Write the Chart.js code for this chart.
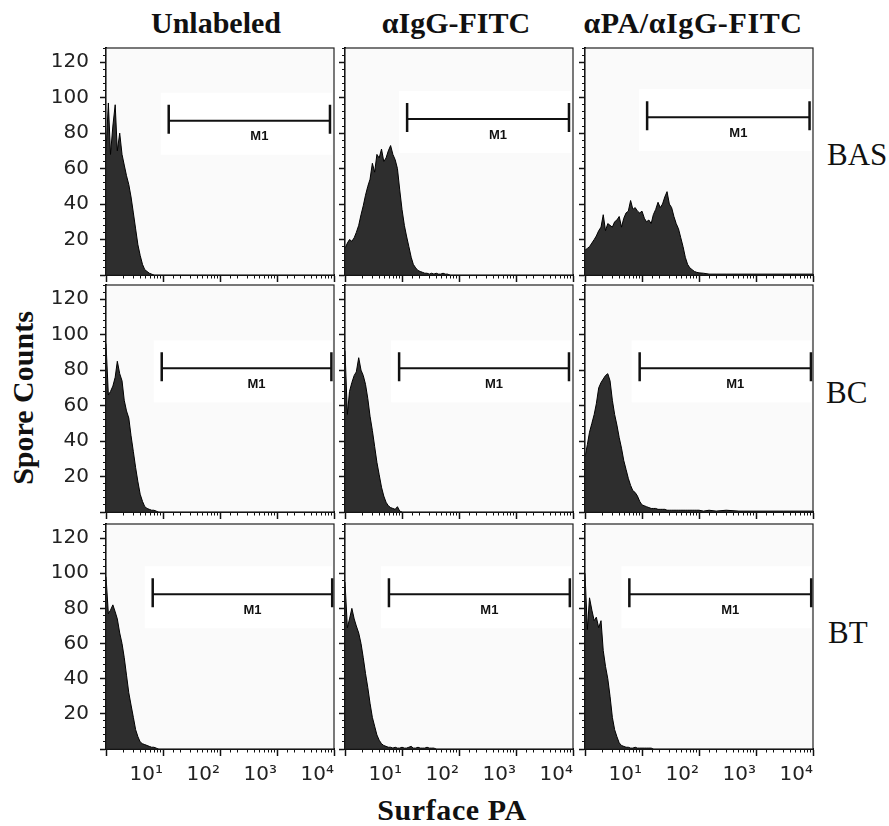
<!DOCTYPE html>
<html>
<head>
<meta charset="utf-8">
<script src="https://cdn.jsdelivr.net/npm/chart.js@4.4.0/dist/chart.umd.min.js"></script>
<style>
  body { margin: 0; background: #fff; width: 889px; height: 826px; position: relative; overflow: hidden; }
  canvas { position: absolute; }
  .txt { position: absolute; font-family: "Liberation Serif", serif; color: #111; white-space: nowrap; line-height: 1; }
  .title { font-size: 30px; font-weight: bold; width: 320px; text-align: center; }
  .row { font-size: 31px; }
</style>
</head>
<body>
<div class="txt title" style="left:56px;top:8px">Unlabeled</div>
<div class="txt title" style="left:296px;top:8px">αIgG-FITC</div>
<div class="txt title" style="left:533px;top:8px;letter-spacing:0.6px">αPA/αIgG-FITC</div>
<div class="txt row" style="left:827px;top:139px">BAS</div>
<div class="txt row" style="left:826px;top:377px">BC</div>
<div class="txt row" style="left:828px;top:617px">BT</div>
<div class="txt title" style="left:292px;top:795px;letter-spacing:0.6px">Surface PA</div>
<div class="txt title" style="left:-137px;top:383px;transform:rotate(-90deg)">Spore Counts</div>
<script>
// histogram bins (fluorescence, log spaced)
const bins = [1, 1.1, 1.2, 1.32, 1.45, 1.58, 1.74, 1.91, 2.09, 2.29,
  2.51, 2.75, 3.02, 3.31, 3.63, 3.98, 4.37, 4.79, 5.25, 5.75,
  6.31, 6.92, 7.59, 8.32, 9.12, 10, 11, 12, 13.2, 14.5,
  15.8, 17.4, 19.1, 20.9, 22.9, 25.1, 27.5, 30.2, 33.1, 36.3,
  39.8, 43.7, 47.9, 52.5, 57.5, 63.1, 69.2, 75.9, 83.2, 91.2,
  100, 120, 150, 200, 300, 500, 1000, 3000, 10000];

// spore counts per bin
const basUnlabeled = [70, 97, 68, 84, 96, 70, 80, 68, 62, 56, 51, 44, 35, 26, 17, 11, 6, 3, 2, 1, 0.5, 0];
const basIgg = [15, 18, 20, 19, 21, 24, 28, 34, 39, 45, 50, 54, 63, 58, 68, 66, 71, 64, 66, 70,
  73, 68, 65, 60, 48, 37, 28, 22, 16, 10, 6, 4, 2.5, 2, 1.5, 1, 1, 0.5, 1, 0.5,
  1, 0.5, 0.5, 1, 0.5, 0.5, 0];
const basPa = [14, 15, 16, 18, 20, 22, 25, 27, 34, 25, 29, 28, 27, 30, 31, 33, 27, 32, 35, 36,
  42, 37, 38, 36, 35, 36, 32, 30, 31, 29, 34, 37, 41, 38, 40, 44, 47, 40, 38, 33,
  29, 26, 21, 16, 10, 6, 4, 3, 2, 1.5, 1.2, 1, 0.5, 0.5, 0.5, 0.5, 0.5, 0.5, 0.5];
const bcUnlabeled = [95, 66, 68, 71, 76, 85, 78, 74, 63, 57, 53, 43, 34, 25, 17, 10, 6, 3, 2, 1.5, 1, 1, 0.5, 0];
const bcIgg = [91, 55, 68, 73, 77, 79, 87, 80, 77, 72, 64, 54, 46, 37, 28, 21, 14, 9, 5.5, 3.5,
  2.5, 2, 1.5, 3, 0.5, 0];
const bcPa = [31, 38, 45, 50, 55, 61, 70, 73, 75, 77, 78, 74, 63, 55, 49, 42, 36, 29, 24, 19,
  15, 12, 11, 9, 6, 4, 3.5, 3, 2.5, 2, 2, 2, 1.5, 1.5, 1.5, 1.5, 1, 1, 1, 1,
  1, 1, 1, 1, 1, 1, 1, 1, 1, 1, 1, 0.5, 1, 0.5, 1, 0.5, 0.5, 0.5, 0.5];
const btUnlabeled = [98, 77, 79, 82, 78, 74, 66, 60, 52, 42, 32, 25, 18, 11, 7, 4, 3, 2.5, 2, 1.5, 1, 1, 0.5, 0];
const btIgg = [95, 69, 74, 80, 74, 70, 66, 60, 52, 43, 35, 26, 18, 13, 8, 5, 3, 2, 1.5, 1,
  1, 0.5, 1, 0.5, 0.5, 1, 0.5, 0.5, 1, 1.5, 0.5, 0.5, 1, 0.5, 0.5, 0.5, 1, 0.5, 0.5, 0.5, 0];
const btPa = [100, 68, 86, 79, 73, 75, 69, 73, 56, 47, 40, 30, 18, 11, 7, 3.5, 2, 1.5, 1, 1,
  0.5, 0.5, 1, 0.5, 0.5, 0.5, 0.5, 0.5, 0.5, 0.5, 0];

const panelCounts = [
  [basUnlabeled, basIgg, basPa],
  [bcUnlabeled, bcIgg, bcPa],
  [btUnlabeled, btIgg, btPa]
];

// M1 gate per panel (row by row)
const gateStart = [12.6, 12.3, 12.3, 9.5, 8.9, 9.1, 6.6, 5.9, 6.0];
const gateEnd = [8500, 8500, 8700, 9000, 8500, 9200, 9300, 8800, 9300];
const gateLevel = [87, 88, 89, 81, 81, 81, 88, 88, 88];
const gateName = 'M1';

const yTicks = [0, 20, 40, 60, 80, 100, 120];
const xTicks = [1, 10, 100, 1000, 10000];
const xTickLabels = ['', '10¹', '10²', '10³', '10⁴'];

// where each plot area sits on the page
const colLeft = [106, 345, 585];
const rowTop = [48, 285, 524];
const rowH = [227, 227, 225];
const plotW = 228;

Chart.defaults.font.family = 'DejaVu Sans';

function decor(k) {
  return {
    id: 'decor' + k,
    beforeDatasetsDraw(chart) {
      const { ctx, chartArea: a, scales } = chart;
      ctx.save();
      ctx.fillStyle = '#fafafa';
      ctx.fillRect(a.left, a.top, a.width, a.height);
      const gx = scales.x.getPixelForValue(gateStart[k]);
      const gy = scales.y.getPixelForValue(gateLevel[k]);
      ctx.fillStyle = '#ffffff';
      ctx.fillRect(gx - 8, gy - 28, a.right - gx + 6, 62);
      ctx.restore();
    },
    afterDatasetsDraw(chart) {
      const { ctx, chartArea: a, scales } = chart;
      const x1 = scales.x.getPixelForValue(gateStart[k]);
      const x2 = scales.x.getPixelForValue(gateEnd[k]);
      const gy = scales.y.getPixelForValue(gateLevel[k]);
      ctx.save();
      // end caps of the gate
      ctx.strokeStyle = '#111';
      ctx.lineWidth = 2.5;
      ctx.beginPath();
      ctx.moveTo(x1, gy - 16); ctx.lineTo(x1, gy + 13);
      ctx.moveTo(x2, gy - 16); ctx.lineTo(x2, gy + 13);
      ctx.stroke();
      ctx.fillStyle = '#111';
      ctx.font = 'bold 13px "Liberation Sans"';
      ctx.textAlign = 'center';
      ctx.textBaseline = 'middle';
      ctx.fillText(gateName, (x1 + x2) / 2 + 10, gy + 16);
      ctx.strokeStyle = '#222';
      ctx.lineWidth = 1.2;
      ctx.strokeRect(a.left, a.top, a.width, a.height);
      ctx.restore();
    }
  };
}

function buildConfig(r, c) {
  const k = r * 3 + c;
  const counts = panelCounts[r][c];
  return {
    type: 'line',
    data: {
      datasets: [
        {
          data: counts.map((v, i) => ({ x: bins[i], y: v })),
          fill: 'origin',
          backgroundColor: '#2e2e2e',
          borderColor: '#000',
          borderWidth: 1,
          pointRadius: 0,
          tension: 0,
          order: 2
        },
        {
          data: [{ x: gateStart[k], y: gateLevel[k] }, { x: gateEnd[k], y: gateLevel[k] }],
          borderColor: '#111',
          borderWidth: 2,
          pointRadius: 0,
          fill: false,
          order: 1
        }
      ]
    },
    options: {
      responsive: false,
      animation: false,
      events: [],
      layout: { padding: { top: 4, right: 4, bottom: 0, left: 0 } },
      plugins: { legend: { display: false }, tooltip: { enabled: false } },
      scales: {
        x: {
          type: 'logarithmic', min: 1, max: 10000, position: 'bottom', weight: 1,
          afterBuildTicks: s => { s.ticks = xTicks.map(v => ({ value: v })); },
          afterFit: s => { s.height = r === 2 ? 44 : 8; },
          grid: { drawOnChartArea: false, tickLength: 7, tickWidth: 1.5, tickColor: '#111' },
          border: { display: true, color: '#000', width: 2 },
          ticks: {
            display: r === 2, autoSkip: false, maxRotation: 0, align: 'end', padding: 7,
            color: '#222', font: { size: 20 },
            callback: (v, i) => xTickLabels[i]
          }
        },
        xMinor: {
          type: 'logarithmic', min: 1, max: 10000, position: 'bottom', weight: 0,
          afterFit: s => { s.height = 0; },
          grid: { drawOnChartArea: false, tickLength: 3.5, tickWidth: 1, tickColor: '#111' },
          border: { display: false },
          ticks: { display: false, autoSkip: false }
        },
        y: {
          min: 0, max: 128, position: 'left', weight: 1,
          afterBuildTicks: s => { s.ticks = yTicks.map(v => ({ value: v })); },
          afterFit: s => { s.width = c === 0 ? 70 : 8; },
          grid: { drawOnChartArea: false, tickLength: 6, tickWidth: 1.5, tickColor: '#111' },
          border: { display: true, color: '#000', width: 2 },
          ticks: {
            display: c === 0, padding: 11, color: '#222', font: { size: 20 },
            callback: v => v === 0 ? '' : v
          }
        },
        yMinor: {
          min: 0, max: 128, position: 'left', weight: 0,
          afterFit: s => { s.width = 0; },
          grid: { drawOnChartArea: false, tickLength: 3, tickWidth: 1, tickColor: '#111' },
          border: { display: false },
          ticks: { display: false, stepSize: 4, autoSkip: false }
        }
      }
    },
    plugins: [decor(k)]
  };
}

function placePanel(r, c) {
  // first pass measures the margins around the plot area
  const probe = document.createElement('canvas');
  probe.width = 400; probe.height = 340;
  document.body.appendChild(probe);
  const test = new Chart(probe, buildConfig(r, c));
  const a = test.chartArea;
  const ml = a.left, mt = a.top, mr = 400 - a.right, mb = 340 - a.bottom;
  test.destroy();
  probe.remove();

  const cv = document.createElement('canvas');
  cv.width = Math.round(ml + plotW + mr);
  cv.height = Math.round(mt + rowH[r] + mb);
  cv.style.left = (colLeft[c] - ml) + 'px';
  cv.style.top = (rowTop[r] - mt) + 'px';
  document.body.appendChild(cv);
  new Chart(cv, buildConfig(r, c));
}

for (let r = 0; r < 3; r++) {
  for (let c = 0; c < 3; c++) placePanel(r, c);
}
</script>
</body>
</html>
